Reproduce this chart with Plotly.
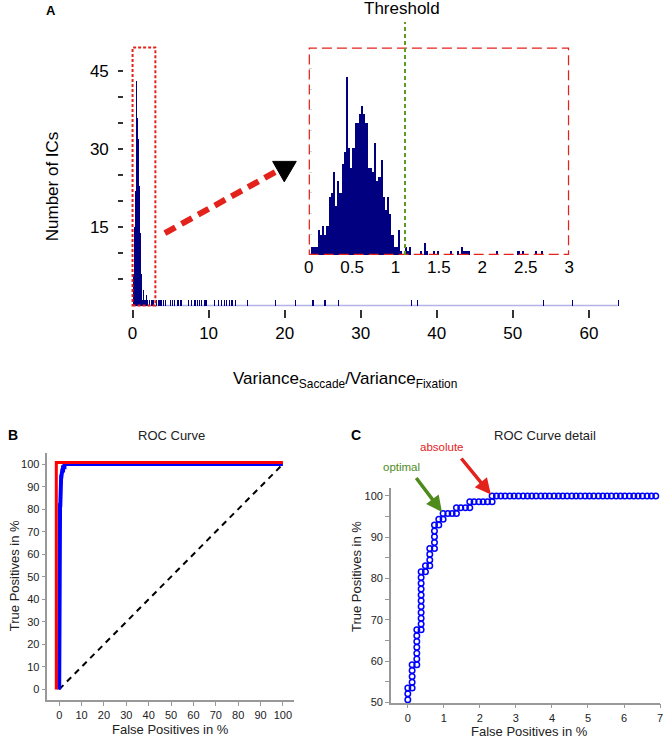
import plotly.graph_objects as go

W, H = 670, 744
FONT = "Liberation Sans, Arial, sans-serif"

# ---------------- Panel A data: histogram of Variance_Saccade / Variance_Fixation
BIN_WIDTH = 0.025
# counts of the 0.025-wide bins covering 0 .. 3
BIN_COUNTS_0_3 = [
    0, 2, 2, 2, 6, 5, 7, 5, 7, 14,
    15, 20, 12, 18, 15, 22, 25, 43, 26, 21,
    26, 32, 32, 34, 36, 34, 32, 21, 21, 20,
    27, 18, 19, 23, 14, 11, 14, 10, 5, 2,
    2, 6, 1, 0, 2, 1, 2, 0, 0, 0,
    0, 1, 0, 3, 1, 0, 0, 1, 0, 1,
    0, 0, 0, 0, 0, 1, 0, 0, 1, 0,
    2, 1, 1, 1, 0, 0, 0, 0, 0, 0,
    0, 0, 0, 0, 0, 0, 1, 0, 0, 0,
    0, 0, 0, 0, 0, 0, 1, 0, 1, 0,
    0, 0, 0, 0, 1, 0, 0, 1, 0, 0,
    0, 0, 0, 0, 0, 0, 0, 0, 0, 0,
]
# single ICs beyond 3 (bin centres) and their counts
OUTLIER_X = [3.09, 3.31, 3.54, 3.78, 4.01, 4.24, 4.95, 5.2, 5.45, 5.9,
             6.3, 7.25, 7.7, 8.15, 8.45, 8.7, 9.05, 9.4, 9.6, 10.7,
             11.2, 11.6, 12.0, 12.3, 12.7, 13.0, 13.5, 15.0, 18.7, 21.35,
             23.65, 25.25, 27.0, 36.65, 37.45, 53.95, 57.75, 63.8]
OUTLIER_COUNTS = [1] * len(OUTLIER_X)
THRESHOLD = 1.109
MAIN_X_TICKS = [0, 10, 20, 30, 40, 50, 60]
MAIN_Y_TICKS = [5, 10, 15, 20, 25, 30, 35, 40, 45]
MAIN_Y_LABELS = ["", "", "15", "", "", "30", "", "", "45"]
INSET_X_TICKS = [0, 0.5, 1, 1.5, 2, 2.5, 3]
INSET_X_LABELS = ["0", "0.5", "1", "1.5", "2", "2.5", "3"]
INSET_RANGE_X = [0, 3]
INSET_RANGE_Y = [0, 50]

# ---------------- Panels B / C data: ROC curve (percent)
ROC_FP = [0.00, 0.00, 0.00,
          0.12, 0.12, 0.12, 0.12, 0.12,
          0.25, 0.25, 0.25, 0.25, 0.25, 0.25, 0.25,
          0.37, 0.37, 0.37, 0.37, 0.37, 0.37, 0.37, 0.37, 0.37, 0.37, 0.37,
          0.49, 0.49,
          0.61, 0.61, 0.61, 0.61,
          0.74, 0.74, 0.74, 0.74, 0.74,
          0.86, 0.86,
          0.98, 0.98,
          1.11, 1.23, 1.35, 1.35, 1.47, 1.60, 1.72, 1.72,
          1.84, 1.97, 2.09, 2.21, 2.34, 2.34,
          2.46, 2.58, 2.70, 2.83, 2.95, 3.07, 3.20, 3.32, 3.44, 3.56,
          3.69, 3.81, 3.93, 4.06, 4.18, 4.30, 4.42, 4.55, 4.67, 4.79,
          4.92, 5.04, 5.16, 5.29, 5.41, 5.53, 5.65, 5.78, 5.90, 6.02,
          6.15, 6.27, 6.39, 6.51, 6.64, 6.76, 6.88, 7.01]
ROC_TP = [50.70, 52.11, 53.52,
          53.52, 54.93, 56.34, 57.75, 59.15,
          59.15, 60.56, 61.97, 63.38, 64.79, 66.20, 67.61,
          67.61, 69.01, 70.42, 71.83, 73.24, 74.65, 76.06, 77.46, 78.87, 80.28, 81.69,
          81.69, 83.10,
          83.10, 84.51, 85.92, 87.32,
          87.32, 88.73, 90.14, 91.55, 92.96,
          92.96, 94.37,
          94.37, 95.77,
          95.77, 95.77, 95.77, 97.18, 97.18, 97.18, 97.18, 98.59,
          98.59, 98.59, 98.59, 98.59, 98.59, 100.0,
          100.0, 100.0, 100.0, 100.0, 100.0, 100.0, 100.0, 100.0, 100.0, 100.0,
          100.0, 100.0, 100.0, 100.0, 100.0, 100.0, 100.0, 100.0, 100.0, 100.0,
          100.0, 100.0, 100.0, 100.0, 100.0, 100.0, 100.0, 100.0, 100.0, 100.0,
          100.0, 100.0, 100.0, 100.0, 100.0, 100.0, 100.0, 100.0]
ROC_START = (0.0, 0.0)
ROC_END = (100.0, 100.0)
PERFECT_FP = [-1.3, -1.3, 100.0]
PERFECT_TP = [0.0, 100.7, 100.7]
CHANCE_FP = [0.0, 100.0]
CHANCE_TP = [0.0, 100.0]
OPTIMAL = (0.98, 95.77)
ABSOLUTE = (2.34, 100.0)
B_TICKS = [0, 10, 20, 30, 40, 50, 60, 70, 80, 90, 100]
C_X_TICKS = [0, 1, 2, 3, 4, 5, 6, 7]
C_Y_TICKS = [50, 55, 60, 65, 70, 75, 80, 85, 90, 95, 100]
C_Y_LABELS = ["50", "", "60", "", "70", "", "80", "", "90", "", "100"]

NAVY = "#000080"
RED = "#e3221c"
GREEN = "#4f8a1c"


def px(x, y):
    return x / W, 1 - y / H


def dom_x(a, b):
    return [a / W, b / W]


def dom_y(top, bottom):
    return [1 - bottom / H, 1 - top / H]


hist_x = [i * BIN_WIDTH + BIN_WIDTH / 2 for i in range(len(BIN_COUNTS_0_3))] + OUTLIER_X
hist_y = BIN_COUNTS_0_3 + OUTLIER_COUNTS

fig = go.Figure()

# main histogram
fig.add_trace(go.Bar(x=hist_x, y=hist_y, width=BIN_WIDTH, marker=dict(color=NAVY, line=dict(width=0)),
                     xaxis="x", yaxis="y", showlegend=False))
# inset histogram (same data, zoomed)
fig.add_trace(go.Bar(x=hist_x, y=hist_y, width=BIN_WIDTH, marker=dict(color=NAVY, line=dict(width=0)),
                     xaxis="x2", yaxis="y2", showlegend=False))

# panel B
fig.add_trace(go.Scatter(x=CHANCE_FP, y=CHANCE_TP, mode="lines", xaxis="x3", yaxis="y3",
                         line=dict(color="black", width=2, dash="6px,5px"), showlegend=False))
fig.add_trace(go.Scatter(x=[ROC_START[0]] + ROC_FP + [ROC_END[0]], y=[ROC_START[1]] + ROC_TP + [ROC_END[1]],
                         mode="lines", xaxis="x3", yaxis="y3",
                         line=dict(color="#0000ff", width=4), showlegend=False))
fig.add_trace(go.Scatter(x=PERFECT_FP, y=PERFECT_TP, mode="lines", xaxis="x3", yaxis="y3",
                         line=dict(color="#ff0000", width=3), showlegend=False))

# panel C
fig.add_trace(go.Scatter(x=ROC_FP, y=ROC_TP, mode="markers", xaxis="x4", yaxis="y4", cliponaxis=False,
                         marker=dict(symbol="circle-open", size=5.5, color="#0000ff", line=dict(width=1.5, color="#0000ff")),
                         showlegend=False))

tickfont_a = dict(family=FONT, size=17, color="black")
tickfont_bc = dict(family=FONT, size=11, color="#222")
gray = "#999999"

layout_axes = dict(
    xaxis=dict(domain=dom_x(126.4, 626.7), range=[-0.4, 64.4], anchor="y",
               tickvals=MAIN_X_TICKS, ticks="outside", ticklen=8, tickwidth=1.5, tickcolor="#333",
               showline=False, showgrid=False, zeroline=False, tickfont=tickfont_a),
    yaxis=dict(domain=dom_y(45.35, 311.7), range=[-0.7, 50], anchor="free", position=120 / W,
               tickvals=MAIN_Y_TICKS, ticktext=MAIN_Y_LABELS, ticks="outside", ticklen=5, tickwidth=1.5,
               tickcolor="#333", showline=False, showgrid=False, zeroline=False, tickfont=tickfont_a,
               ticklabelstandoff=6),
    xaxis2=dict(domain=dom_x(308.3, 572.7), range=INSET_RANGE_X, anchor="y2",
                tickvals=INSET_X_TICKS, ticktext=INSET_X_LABELS, ticks="", showline=False,
                showgrid=False, zeroline=False, tickfont=tickfont_a),
    yaxis2=dict(domain=dom_y(48, 257), range=INSET_RANGE_Y, anchor="x2",
                tickvals=MAIN_Y_TICKS, ticks="inside", ticklen=3, tickcolor="#d4d4d4",
                showticklabels=False, showline=False, showgrid=False, zeroline=False),
    xaxis3=dict(domain=dom_x(43, 293), range=[-5.3, 104.8], anchor="y3",
                tickvals=B_TICKS, ticks="outside", ticklen=4, tickcolor=gray, showline=True,
                linecolor=gray, linewidth=1.5, showgrid=False, zeroline=False, tickfont=tickfont_bc),
    yaxis3=dict(domain=dom_y(457, 706), range=[-4.85, 104.8], anchor="x3",
                tickvals=B_TICKS, ticks="outside", ticklen=4, tickcolor=gray, showline=True,
                linecolor=gray, linewidth=1.5, showgrid=False, zeroline=False, tickfont=tickfont_bc),
    xaxis4=dict(domain=dom_x(391.7, 665), range=[-0.47, 7], anchor="y4",
                tickvals=C_X_TICKS, ticks="outside", ticklen=4, tickcolor=gray, showline=True,
                linecolor=gray, linewidth=1.5, showgrid=False, zeroline=False, tickfont=tickfont_bc),
    yaxis4=dict(domain=dom_y(491.7, 708.3), range=[50, 102], anchor="x4",
                tickvals=C_Y_TICKS, ticktext=C_Y_LABELS, ticks="outside", ticklen=4, tickcolor=gray,
                showline=True, linecolor=gray, linewidth=1.5, showgrid=False, zeroline=False,
                tickfont=tickfont_bc),
)

shapes = [
    # baseline of main histogram
    dict(type="line", xref="x", yref="y", x0=0, x1=max(OUTLIER_X), y0=0, y1=0,
         line=dict(color="#b4b4e8", width=1.5), layer="below"),
    # dotted zoom box in main histogram
    dict(type="rect", xref="x", yref="y", x0=INSET_RANGE_X[0], x1=INSET_RANGE_X[1], y0=0, y1=49.5,
         line=dict(color=RED, width=2, dash="3px,2px")),
    # dashed frame of inset
    dict(type="rect", xref="x2", yref="y2", x0=INSET_RANGE_X[0], x1=INSET_RANGE_X[1],
         y0=INSET_RANGE_Y[0], y1=INSET_RANGE_Y[1], line=dict(color=RED, width=2.5, dash="10px,5px")),
    # threshold line
    dict(type="line", xref="x2", yref="y2 domain", x0=THRESHOLD, x1=THRESHOLD, y0=0, y1=1.124,
         line=dict(color="#5f9a22", width=2, dash="4px,3px")),
]
# dashed red arrow with black triangle head
x0, y0 = px(162.3, 235)
x1, y1 = px(277, 172)
shapes.append(dict(type="line", xref="paper", yref="paper", x0=x0, y0=y0, x1=x1, y1=y1,
                   line=dict(color=RED, width=6, dash="12px,7px")))
t1, t2, t3 = px(271.7, 162.7), px(295.7, 162.7), px(283.5, 183.3)
shapes.append(dict(type="path", xref="paper", yref="paper",
                   path=f"M{t1[0]},{t1[1]} L{t2[0]},{t2[1]} L{t3[0]},{t3[1]} Z",
                   fillcolor="black", line=dict(color="black", width=1)))


def txt(text, x, y, size, color="black", bold=False, angle=0):
    xx, yy = px(x, y)
    return dict(text=f"<b>{text}</b>" if bold else text, x=xx, y=yy, xref="paper", yref="paper",
                showarrow=False, textangle=angle, xanchor="center", yanchor="middle",
                font=dict(family=FONT, size=size, color=color))


annotations = [
    txt("A", 47, 11, 13, bold=True),
    txt("Number of ICs", 48.5, 188, 17, angle=-90),
    txt("Variance<sub>Saccade</sub>/Variance<sub>Fixation</sub>", 345, 383, 17),
    txt("Threshold", 403.5, 8.5, 17),
    txt("B", 8, 439, 14, bold=True),
    txt("ROC Curve", 169, 439, 13, color="#222"),
    txt("False Positives in %", 168, 735, 13, color="#222"),
    txt("True Positives in %", 9, 580, 13, color="#222", angle=-90),
    txt("C", 356, 439, 14, bold=True),
    txt("ROC Curve detail", 548, 439, 13, color="#222"),
    txt("False Positives in %", 532, 737, 13, color="#222"),
    txt("True Positives in %", 357, 581, 13, color="#222", angle=-90),
    txt("absolute", 443, 451, 11.5, color=RED),
    txt("optimal", 402, 471, 11.5, color=GREEN),
    dict(x=OPTIMAL[0], y=OPTIMAL[1], xref="x4", yref="y4", text="", showarrow=True,
         ax=-28, ay=-37, arrowhead=2, arrowwidth=3.5, arrowsize=0.9, arrowcolor=GREEN, standoff=2),
    dict(x=ABSOLUTE[0], y=ABSOLUTE[1], xref="x4", yref="y4", text="", showarrow=True,
         ax=-32, ay=-39, arrowhead=2, arrowwidth=3.5, arrowsize=0.9, arrowcolor=RED, standoff=2),
]

fig.update_layout(width=W, height=H, margin=dict(l=0, r=0, t=0, b=0),
                  paper_bgcolor="white", plot_bgcolor="rgba(0,0,0,0)",
                  bargap=0, barmode="overlay", shapes=shapes, annotations=annotations,
                  font=dict(family=FONT), **layout_axes)

fig.write_html("out.html", config={"displayModeBar": False},
               post_script="document.body.style.margin='0';document.body.style.overflow='hidden';")
